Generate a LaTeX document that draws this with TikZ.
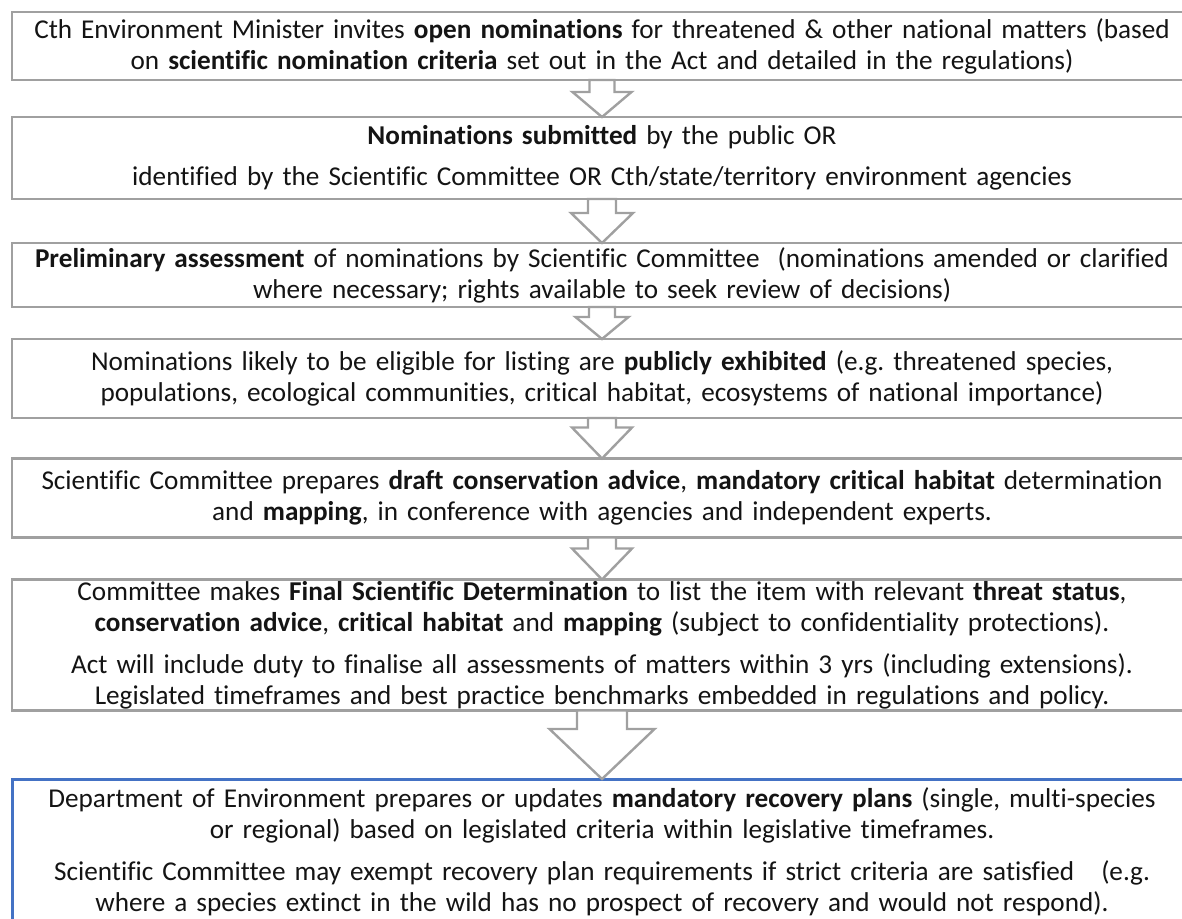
\documentclass[tikz,border=0pt]{standalone}
\usepackage{fontspec}
\setmainfont{Carlito}[Ligatures={NoCommon}]
\usetikzlibrary{calc}
\definecolor{boxgray}{HTML}{A0A0A0}
\definecolor{boxblue}{HTML}{4472C4}
\definecolor{txt}{HTML}{141414}
\tikzset{
  box/.style={draw=boxgray, line width=2.6pt, fill=white, minimum width=1180pt,
    text width=1176pt, align=center, inner sep=0pt, outer sep=0pt, text=txt,
    font=\fontsize{27.2}{31}\selectfont\frenchspacing},
  bluebox/.style={box, draw=boxblue, line width=3pt},
  arr/.style={draw=boxgray, line width=2.4pt, fill=white, line join=miter}
}
\newcommand\blockarrow[5]{%
  \draw[arr] let \p1=(#1.south), \p2=(#2.north) in
    (\x1-#3pt,\y1) -- (\x1-#3pt,\y2+#5pt) -- (\x1-#4pt,\y2+#5pt) -- (\x1,\y2)
    -- (\x1+#4pt,\y2+#5pt) -- (\x1+#3pt,\y2+#5pt) -- (\x1+#3pt,\y1) -- cycle;}
\begin{document}
\begin{tikzpicture}[x=1pt,y=-1pt]
\useasboundingbox (0,0) rectangle (1182,918);
\node[box, minimum height=68pt] (b1) at (602,46)
  {Cth Environment Minister invites \textbf{open nominations} for threatened \& other national matters (based\\
   on \textbf{scientific nomination criteria} set out in the Act and detailed in the regulations)};
\node[box, minimum height=82pt] (b2) at (602,158)
  {\textbf{Nominations submitted} by the public OR\\[10pt]
   identified by the Scientific Committee OR Cth/state/territory environment agencies};
\node[box, minimum height=64pt] (b3) at (602,275)
  {\textbf{Preliminary assessment} of nominations by Scientific Committee\ \ (nominations amended or clarified\\
   where necessary; rights available to seek review of decisions)};
\node[box, minimum height=79pt] (b4) at (602,378.5)
  {Nominations likely to be eligible for listing are \textbf{publicly exhibited} (e.g.\ threatened species,\\
   populations, ecological communities, critical habitat, ecosystems of national importance)};
\node[box, minimum height=79pt] (b5) at (602,498)
  {Scientific Committee prepares \textbf{draft conservation advice}, \textbf{mandatory critical habitat} determination\\
   and \textbf{mapping}, in conference with agencies and independent experts.};
\node[box, minimum height=131pt] (b6) at (602,645)
  {Committee makes \textbf{Final Scientific Determination} to list the item with relevant \textbf{threat status},\\
   \textbf{conservation advice}, \textbf{critical habitat} and \textbf{mapping} (subject to confidentiality protections).\\[11pt]
   Act will include duty to finalise all assessments of matters within 3 yrs (including extensions).\\
   Legislated timeframes and best practice benchmarks embedded in regulations and policy.};
\node[bluebox, minimum height=146pt] (b7) at (602,852)
  {Department of Environment prepares or updates \textbf{mandatory recovery plans} (single, multi-species\\
   or regional) based on legislated criteria within legislative timeframes.\\[11pt]
   Scientific Committee may exempt recovery plan requirements if strict criteria are satisfied\ \ \ (e.g.\\
   where a species extinct in the wild has no prospect of recovery and would not respond).};
\blockarrow{b1}{b2}{12.5}{29.5}{25}
\blockarrow{b2}{b3}{14}{31}{30}
\blockarrow{b3}{b4}{13}{26.5}{22}
\blockarrow{b4}{b5}{14}{30}{31}
\blockarrow{b5}{b6}{14}{30}{31}
\blockarrow{b6}{b7}{25}{52.5}{50}
\end{tikzpicture}
\end{document}
